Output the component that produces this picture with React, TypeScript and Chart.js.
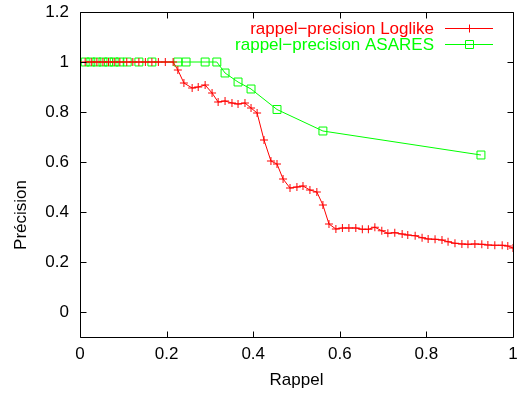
import React, { useEffect, useRef } from 'react';
import { Chart, registerables } from 'chart.js';

Chart.register(...registerables);

const loglikeRecall = [
  0.012, 0.026, 0.039, 0.053, 0.066, 0.079, 0.092, 0.108, 0.122, 0.136, 0.151, 0.166, 0.181, 0.197, 0.215,
  0.226, 0.240, 0.259, 0.273, 0.289, 0.305, 0.319, 0.335, 0.351, 0.365, 0.381, 0.395, 0.409, 0.425,
  0.441, 0.455, 0.469, 0.485, 0.501, 0.515, 0.531, 0.547, 0.561, 0.575, 0.591, 0.606, 0.621, 0.637,
  0.652, 0.666, 0.681, 0.697, 0.711, 0.727, 0.744, 0.757, 0.774, 0.790, 0.804, 0.820, 0.836, 0.850,
  0.866, 0.882, 0.896, 0.912, 0.928, 0.942, 0.958, 0.975, 0.988, 1.0,
];
const loglikePrecision = [
  1, 1, 1, 1, 1, 1, 1, 1, 1, 1, 1, 1, 1, 1, 1,
  0.968, 0.916, 0.896, 0.900, 0.908, 0.876, 0.840, 0.844, 0.836, 0.832, 0.836, 0.816, 0.796, 0.688,
  0.604, 0.592, 0.532, 0.496, 0.500, 0.504, 0.488, 0.480, 0.428, 0.352, 0.332, 0.336, 0.336, 0.336,
  0.331, 0.331, 0.339, 0.325, 0.315, 0.317, 0.312, 0.308, 0.305, 0.297, 0.292, 0.291, 0.288, 0.281,
  0.275, 0.272, 0.271, 0.272, 0.271, 0.268, 0.267, 0.267, 0.264, 0.256,
];
const asaresRecall = [
  0.012, 0.025, 0.039, 0.053, 0.066, 0.079, 0.092, 0.109, 0.136, 0.166, 0.226, 0.245, 0.289, 0.316,
  0.335, 0.365, 0.395, 0.455, 0.561, 0.926,
];
const asaresPrecision = [
  1, 1, 1, 1, 1, 1, 1, 1, 1, 1, 1, 1, 1, 1,
  0.956, 0.920, 0.892, 0.810, 0.724, 0.628,
];

const xTicks = [0, 0.2, 0.4, 0.6, 0.8, 1];
const yTicks = [0, 0.2, 0.4, 0.6, 0.8, 1, 1.2];
const xTitle = 'Rappel';
const yTitle = 'Précision';
const seriesLabels = ['rappel\u2212precision Loglike', 'rappel\u2212precision ASARES'];
const seriesColors = ['#ff0000', '#00ff00'];

const FONT = '"Liberation Sans", Arial, Helvetica, sans-serif';
const FS = 17;

const fmt = (v: number) => String(Math.round(v * 10) / 10);

const clearPadding = (scale: any) => {
  scale.paddingTop = 0;
  scale.paddingBottom = 0;
  scale.paddingLeft = 0;
  scale.paddingRight = 0;
};

const framePlugin = {
  id: 'gnuFrame',
  afterDraw(chart: any) {
    const { ctx, chartArea, scales } = chart;
    const { left, right, top, bottom } = chartArea;
    const xs = scales.x;
    const ys = scales.y;
    ctx.save();
    ctx.strokeStyle = '#000';
    ctx.lineWidth = 1;
    const L = Math.round(left) + 0.5;
    const R = Math.round(right) + 0.5;
    const T = Math.round(top) + 0.5;
    const B = Math.round(bottom) + 0.5;
    ctx.beginPath();
    ctx.rect(L, T, R - L, B - T);
    ctx.stroke();
    const tl = 6;
    ctx.beginPath();
    xTicks.forEach((v) => {
      const px = Math.round(xs.getPixelForValue(v)) + 0.5;
      ctx.moveTo(px, B);
      ctx.lineTo(px, B - tl);
      ctx.moveTo(px, T);
      ctx.lineTo(px, T + tl);
    });
    yTicks.forEach((v) => {
      const py = Math.round(ys.getPixelForValue(v)) + 0.5;
      ctx.moveTo(L, py);
      ctx.lineTo(L + tl, py);
      ctx.moveTo(R, py);
      ctx.lineTo(R - tl, py);
    });
    ctx.stroke();

    // y title
    ctx.fillStyle = '#000';
    ctx.font = `${FS}px ${FONT}`;
    ctx.textAlign = 'center';
    ctx.textBaseline = 'middle';
    ctx.save();
    ctx.translate(21, 215);
    ctx.rotate(-Math.PI / 2);
    ctx.fillText(yTitle, 0, 0);
    ctx.restore();

    // legend
    const rows = [28, 44];
    rows.forEach((ry, i) => {
      const color = seriesColors[i];
      ctx.fillStyle = color;
      ctx.strokeStyle = color;
      ctx.textAlign = 'right';
      ctx.textBaseline = 'middle';
      ctx.fillText(seriesLabels[i], 434, ry + 1);
      ctx.beginPath();
      ctx.moveTo(445, ry + 0.5);
      ctx.lineTo(493, ry + 0.5);
      ctx.stroke();
      const mx = 469.5;
      const my = ry + 0.5;
      ctx.beginPath();
      if (i === 0) {
        ctx.moveTo(mx - 4, my);
        ctx.lineTo(mx + 4, my);
        ctx.moveTo(mx, my - 4);
        ctx.lineTo(mx, my + 4);
      } else {
        ctx.rect(mx - 4, my - 4, 8, 8);
      }
      ctx.stroke();
    });
    ctx.restore();
  },
};

export default function App() {
  const ref = useRef<HTMLCanvasElement | null>(null);

  useEffect(() => {
    if (!ref.current) return;
    const chart = new Chart(ref.current, {
      type: 'scatter',
      data: {
        datasets: [
          {
            label: seriesLabels[0],
            data: loglikeRecall.map((x, i) => ({ x, y: loglikePrecision[i] })),
            showLine: true,
            borderColor: seriesColors[0],
            backgroundColor: seriesColors[0],
            borderWidth: 1,
            pointStyle: 'cross',
            pointRadius: 4,
            pointBorderWidth: 1,
            pointBorderColor: seriesColors[0],
            pointHoverRadius: 4,
          },
          {
            label: seriesLabels[1],
            data: asaresRecall.map((x, i) => ({ x, y: asaresPrecision[i] })),
            showLine: true,
            borderColor: seriesColors[1],
            backgroundColor: 'rgba(0,0,0,0)',
            borderWidth: 1,
            pointStyle: 'rect',
            pointRadius: 5.6,
            pointBorderWidth: 1,
            pointBorderColor: seriesColors[1],
            pointBackgroundColor: 'rgba(0,0,0,0)',
            pointHoverRadius: 5.6,
          },
        ],
      },
      options: {
        animation: false,
        responsive: false,
        maintainAspectRatio: false,
        devicePixelRatio: 1,
        layout: { padding: { top: 12, right: 8, left: 0, bottom: 0 } },
        plugins: {
          legend: { display: false },
          tooltip: { enabled: false },
        },
        scales: {
          x: {
            type: 'linear',
            min: 0,
            max: 1,
            afterBuildTicks: (scale: any) => {
              scale.ticks = xTicks.map((v) => ({ value: v }));
            },
            afterFit: (scale: any) => {
              scale.height = 59;
              clearPadding(scale);
            },
            grid: { display: false, drawTicks: false, tickLength: 0 },
            border: { display: false },
            ticks: {
              padding: 7,
              color: '#000',
              font: { family: FONT, size: FS },
              callback: (v: any) => fmt(Number(v)),
              maxRotation: 0,
              autoSkip: false,
            },
            title: {
              display: true,
              text: xTitle,
              color: '#000',
              font: { family: FONT, size: FS },
              padding: { top: 0, bottom: 5 },
            },
          },
          y: {
            type: 'linear',
            min: -0.1,
            max: 1.2,
            afterBuildTicks: (scale: any) => {
              scale.ticks = yTicks.map((v) => ({ value: v }));
            },
            afterFit: (scale: any) => {
              scale.width = 80;
              clearPadding(scale);
            },
            grid: { display: false, drawTicks: false, tickLength: 0 },
            border: { display: false },
            ticks: {
              padding: 11,
              color: '#000',
              font: { family: FONT, size: FS },
              callback: (v: any) => fmt(Number(v)),
              autoSkip: false,
            },
          },
        },
      },
      plugins: [framePlugin],
    });
    return () => chart.destroy();
  }, []);

  return (
    <div style={{ position: 'absolute', left: 0, top: 0, width: 521, height: 396, background: '#fff' }}>
      <canvas ref={ref} width={521} height={396} style={{ display: 'block', width: 521, height: 396 }} />
    </div>
  );
}
